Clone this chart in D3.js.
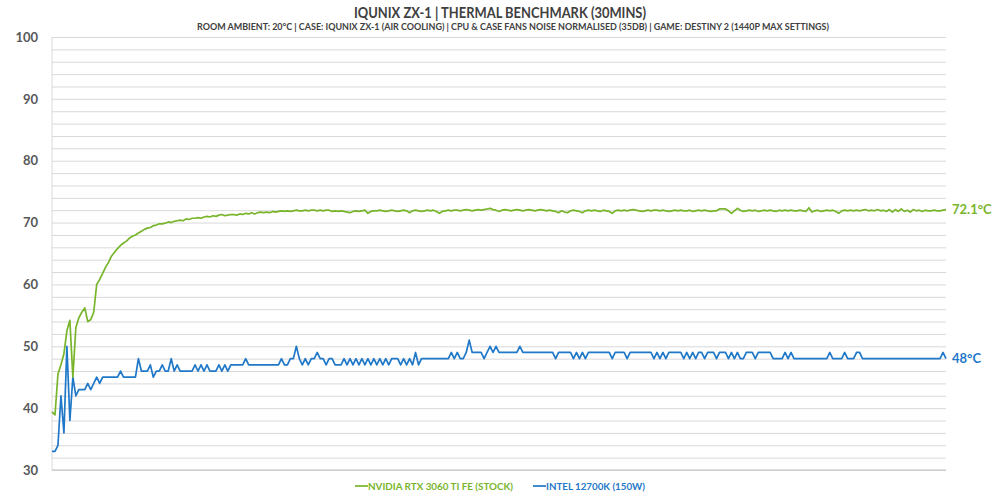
<!DOCTYPE html>
<html><head><meta charset="utf-8">
<script src="https://cdn.jsdelivr.net/npm/d3@7"></script>
<style>
html,body{margin:0;padding:0;background:#fff;}
svg{display:block;font-family:Lato,"Open Sans",sans-serif;}
</style></head><body>
<svg id="chart" width="1000" height="497"></svg>
<script>
const titleText = "IQUNIX ZX-1 | THERMAL BENCHMARK (30MINS)";
const subtitleText = "ROOM AMBIENT: 20°C | CASE: IQUNIX ZX-1 (AIR COOLING) | CPU & CASE FANS NOISE NORMALISED (35DB) | GAME: DESTINY 2 (1440P MAX SETTINGS)";
const seriesNames = ["NVIDIA RTX 3060 TI FE (STOCK)", "INTEL 12700K (150W)"];
const yTickLabels = [30, 40, 50, 60, 70, 80, 90, 100];
const yGridStep = 2;

// GPU temperature (°C), sampled every 6 s over 30 minutes
const gpuTemp = [
39.4,38.9,45.5,47.0,48.8,52.5,54.2,45.0,53.0,54.6,
55.5,56.2,54.0,54.3,55.5,60.0,60.8,61.8,62.8,63.6,
64.6,65.2,65.8,66.3,66.7,67.0,67.5,67.8,68.0,68.3,
68.6,68.9,69.1,69.2,69.5,69.6,69.8,69.8,69.9,70.1,
70.0,70.2,70.3,70.4,70.3,70.6,70.5,70.7,70.7,70.8,
70.7,70.9,71.0,70.9,71.1,71.0,71.2,71.3,71.1,71.2,
71.3,71.3,71.2,71.4,71.3,71.5,71.4,71.6,71.4,71.6,
71.7,71.6,71.7,71.6,71.8,71.7,71.8,71.9,71.8,71.9,
71.8,71.9,72.0,71.9,71.9,72.0,71.9,72.0,72.0,71.9,
72.0,71.9,72.0,72.0,71.8,71.9,71.8,71.9,71.8,71.7,
71.6,71.8,71.9,71.8,71.9,72.0,71.5,71.8,71.9,71.9,
72.0,71.9,71.8,71.9,72.0,71.9,71.8,71.9,72.0,71.9,
71.6,71.9,72.0,71.9,71.8,71.9,72.0,71.9,72.0,71.8,
71.5,71.8,71.9,72.0,71.9,72.0,72.0,71.9,72.0,72.1,
72.0,71.9,72.0,72.1,72.0,72.1,72.2,72.3,72.1,72.0,
71.8,72.0,72.1,72.0,71.9,72.0,72.1,72.0,71.9,72.0,
72.1,72.0,71.9,72.0,72.1,72.0,71.9,72.0,71.9,71.8,
71.6,71.9,71.7,71.6,71.9,72.0,71.9,71.8,71.6,71.9,
72.0,71.9,72.0,71.9,71.8,72.0,71.9,71.8,71.5,71.9,
72.0,71.9,72.0,71.9,72.0,72.1,72.0,71.9,71.8,71.9,
72.0,71.9,72.0,72.0,71.9,72.0,71.9,71.8,71.9,72.0,
71.9,72.0,71.9,71.9,72.0,71.8,71.9,72.0,71.9,72.0,
71.9,71.8,71.9,71.9,72.2,72.2,72.2,71.9,71.5,71.9,
72.3,72.0,71.8,71.9,72.0,71.9,72.0,71.8,71.9,72.0,
71.9,72.0,71.9,71.8,72.0,71.9,72.0,71.9,72.0,71.9,
71.9,72.0,71.9,71.8,72.4,71.7,71.9,72.0,71.8,71.9,
72.0,71.9,72.0,71.8,71.5,71.9,72.0,71.9,72.0,71.9,
72.0,71.9,72.0,72.1,71.9,72.0,71.9,72.1,71.9,72.0,
71.8,72.1,71.7,72.1,71.8,72.2,71.8,72.0,71.7,72.1,
71.9,72.0,71.8,72.0,71.9,71.9,72.0,71.9,71.9,72.0,
72.1
];

// CPU temperature (°C), same sampling
const cpuTemp = [
33,33,34,42,36,50,38,45,42,43,
43,43,44,43,44,45,44,45,45,45,
45,45,45,46,45,45,45,45,45,48,
46,46,46,47,45,46,46,47,46,46,
48,46,47,46,46,46,46,46,47,46,
47,46,47,46,46,46,47,46,47,46,
47,47,47,47,47,48,47,47,47,47,
47,47,47,47,47,47,47,48,47,47,
48,48,50,48,47,48,47,48,48,49,
48,48,47,48,48,47,47,47,48,47,
48,47,48,47,48,47,48,47,48,47,
48,47,48,47,48,48,48,47,48,47,
48,47,49,47,48,48,48,48,48,48,
48,48,48,48,49,48,49,48,48,49,
51,49,49,49,49,48,49,50,49,50,
49,49,49,49,49,49,49,50,49,49,
49,49,49,49,49,49,49,49,49,48,
49,49,49,49,49,48,49,48,49,48,
49,49,49,49,49,49,49,49,48,49,
49,49,49,48,49,49,49,49,49,49,
49,49,48,49,48,49,48,49,49,49,
49,49,48,49,48,49,48,49,49,48,
49,49,49,48,49,49,49,48,49,48,
49,48,48,49,49,49,48,49,49,49,
49,49,48,48,48,48,49,48,49,48,
48,48,48,48,48,48,48,48,48,48,
48,49,48,48,48,48,49,48,48,48,
49,49,48,48,48,48,48,48,48,48,
48,48,48,48,48,48,48,48,48,48,
48,48,48,48,48,48,48,48,48,49,
48
];

const colors = ["#78b52c", "#1f78c8"];
const series = [
  {name: seriesNames[0], values: gpuTemp, color: colors[0], unit: "°C"},
  {name: seriesNames[1], values: cpuTemp, color: colors[1], unit: "°C"}
];

const svg = d3.select("#chart");
const plotLeft = 52, plotRight = 946, plotTop = 37, plotBottom = 470;

const x = d3.scaleLinear().domain([0, gpuTemp.length - 1]).range([plotLeft, plotRight]);
const y = d3.scaleLinear().domain([30, 100]).range([plotBottom, plotTop]);

// Title
svg.append("text").attr("x", 500).attr("y", 18).attr("text-anchor", "middle")
  .attr("font-size", 15.5).attr("font-weight", 700).attr("fill", "#404040")
  .attr("textLength", 292).attr("lengthAdjust", "spacingAndGlyphs")
  .text(titleText);
svg.append("text").attr("x", 513).attr("y", 29.5).attr("text-anchor", "middle")
  .attr("font-size", 9).attr("font-weight", 700).attr("fill", "#404040")
  .attr("textLength", 632).attr("lengthAdjust", "spacingAndGlyphs")
  .text(subtitleText);

// Grid
const gridVals = d3.range(30, 100 + 0.001, yGridStep);
const grid = svg.append("g").attr("transform", `translate(${plotLeft},0)`)
  .call(d3.axisLeft(y).tickValues(gridVals).tickSize(-(plotRight - plotLeft)).tickFormat(""));
grid.select(".domain").remove();
grid.selectAll(".tick line").attr("stroke", "#d9d9d9").attr("stroke-width", 1);

// left axis line and bottom line
svg.append("line").attr("x1", plotLeft).attr("x2", plotLeft).attr("y1", y(100)).attr("y2", y(30))
  .attr("stroke", "#d9d9d9").attr("stroke-width", 1);
svg.append("line").attr("x1", plotLeft).attr("x2", plotRight).attr("y1", y(30)).attr("y2", y(30))
  .attr("stroke", "#bfbfbf").attr("stroke-width", 1);

// Y labels
const yAxis = svg.append("g").attr("transform", `translate(${plotLeft},0)`)
  .call(d3.axisLeft(y).tickValues(yTickLabels).tickSize(0).tickPadding(14));
yAxis.select(".domain").remove();
yAxis.selectAll("text").attr("font-size", 13).attr("font-weight", 700)
  .attr("fill", "#595959").attr("font-family", "Lato, 'Open Sans', sans-serif");

// Lines
const line = d3.line().x((d, i) => x(i)).y(d => y(d));
series.slice().reverse().forEach(s => {
  svg.append("path").datum(s.values).attr("d", line)
    .attr("fill", "none").attr("stroke", s.color).attr("stroke-width", 1.7)
    .attr("stroke-linejoin", "round");
});

// End labels
series.forEach(s => {
  const last = s.values[s.values.length - 1];
  svg.append("text").attr("x", x(s.values.length - 1) + 6).attr("y", y(last))
    .attr("dy", "0.35em").attr("font-size", 13).attr("font-weight", 700)
    .attr("fill", s.color)
    .text((Number.isInteger(last) ? last : last.toFixed(1)) + s.unit);
});

// Legend
const legendItems = [
  {lx: 355, tx: 368, tw: 145},
  {lx: 533, tx: 546, tw: 99}
];
series.forEach((s, i) => {
  const L = legendItems[i];
  svg.append("line").attr("x1", L.lx).attr("x2", L.tx).attr("y1", 486).attr("y2", 486)
    .attr("stroke", s.color).attr("stroke-width", 1.7);
  svg.append("text").attr("x", L.tx).attr("y", 486).attr("dy", "0.35em")
    .attr("font-size", 10).attr("font-weight", 700).attr("fill", s.color)
    .attr("textLength", L.tw).attr("lengthAdjust", "spacingAndGlyphs")
    .text(s.name);
});
</script>
</body></html>
